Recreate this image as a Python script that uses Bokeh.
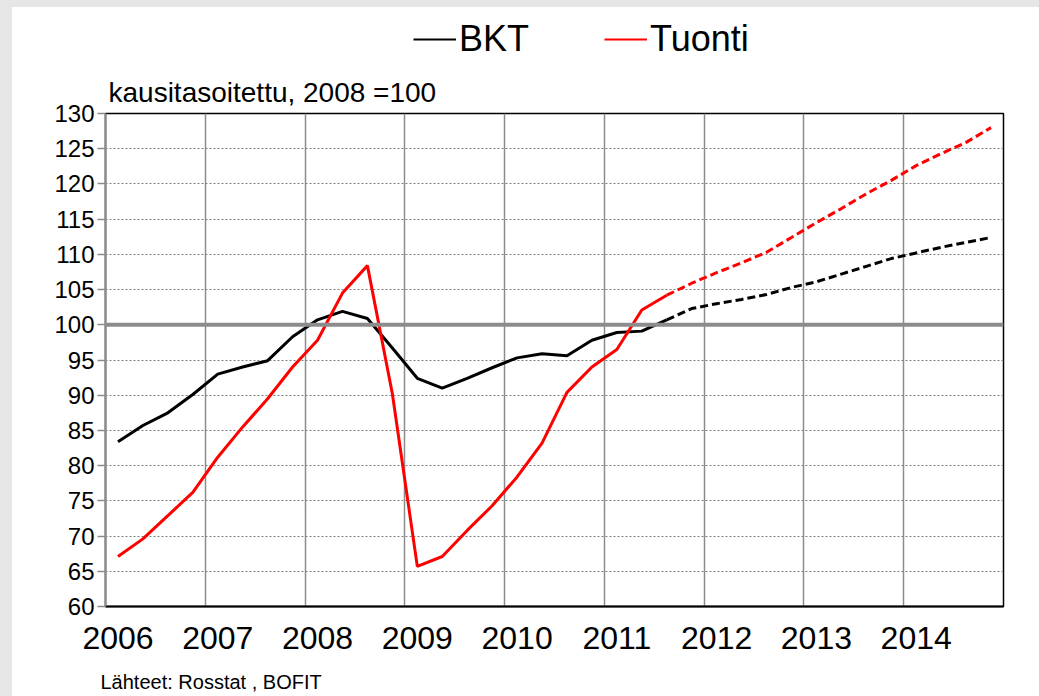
from bokeh.plotting import figure
from bokeh.layouts import column
from bokeh.models import (FixedTicker, Span, Legend, LegendItem, Title,
                          GlobalInlineStyleSheet, CustomJSTickFormatter)
from bokeh.embed import file_html
from bokeh.resources import INLINE

# ---- data (quarterly, 2006Q1 .. 2014Q4) ----
years = [2006, 2007, 2008, 2009, 2010, 2011, 2012, 2013, 2014]
quarters = [1, 2, 3, 4]
bkt = [83.4, 85.7, 87.5, 90.1, 93.0, 94.0, 94.9, 98.3,
       100.7, 101.9, 100.9, 96.7, 92.4, 91.0, 92.4, 93.9,
       95.3, 95.9, 95.6, 97.8, 98.9, 99.1, 100.7, 102.3,
       103.0, 103.6, 104.3, 105.3, 106.1, 107.2, 108.3, 109.4,
       110.2, 111.0, 111.7, 112.4]
tuonti = [67.1, 69.6, 72.9, 76.2, 81.2, 85.5, 89.5, 94.0,
          97.8, 104.5, 108.4, 90.2, 65.7, 67.1, 70.8, 74.3,
          78.4, 83.2, 90.4, 94.0, 96.5, 102.1, 104.2, 105.9,
          107.4, 108.8, 110.3, 112.4, 114.5, 116.5, 118.6, 120.5,
          122.6, 124.3, 125.9, 128.0]
forecast_start = 22  # index of 2011Q3, forecast (dashed) from here on
y_ticks = list(range(60, 131, 5))
series_names = ["BKT", "Tuonti"]
series_colors = ["black", "#ff0000"]
subtitle = "kausitasoitettu, 2008 =100"
source = "Lähteet: Rosstat , BOFIT"

t = [y + (q - 0.5) / 4 for y in years for q in quarters]
FONT = "Liberation Sans"
NAN = float("nan")

# ---------------- header figure (legend) ----------------
top = figure(width=1027, height=60, output_backend="svg", toolbar_location=None,
             x_range=(0, 1), y_range=(0, 1), x_axis_location=None,
             y_axis_location=None, min_border_left=93, min_border_right=36,
             min_border_top=0, min_border_bottom=0, outline_line_color=None,
             border_fill_color=None, background_fill_color=None)
top.grid.visible = False
dummies = [top.line(x=[NAN, NAN], y=[NAN, NAN], line_color=c, line_width=2)
           for c in series_colors]
legend = Legend(items=[LegendItem(label=n, renderers=[r])
                       for n, r in zip(series_names, dummies)],
                orientation="horizontal", location=(308, 7),
                label_text_font=FONT, label_text_font_size="36px",
                label_text_color="black",
                glyph_width=43, label_standoff=3, spacing=75, padding=0,
                margin=0, border_line_alpha=0, background_fill_alpha=0)
top.add_layout(legend, "center")

# ---------------- main figure ----------------
p = figure(width=1027, height=664, output_backend="svg", toolbar_location=None,
           x_range=(2006, 2015), y_range=(60, 130),
           min_border_left=93, min_border_right=36, min_border_top=46,
           min_border_bottom=125, background_fill_color="white",
           border_fill_color=None)

p.xgrid.ticker = FixedTicker(ticks=years + [2015])
p.xgrid.grid_line_color = "#8c8c8c"
p.xgrid.grid_line_width = 1.5
p.ygrid.ticker = FixedTicker(ticks=y_ticks)
p.ygrid.grid_line_color = "#808080"
p.ygrid.grid_line_width = 1
p.ygrid.grid_line_dash = "2 2"

p.add_layout(Span(location=100, dimension="width", line_color="#8c8c8c",
                  line_width=4))

si = forecast_start + 1
for vals, c in zip([bkt, tuonti], series_colors):
    p.line(t[:si], vals[:si], line_color=c, line_width=3)
    p.line(t[forecast_start:], vals[forecast_start:], line_color=c,
           line_width=3, line_dash="8 4")

p.xaxis.ticker = FixedTicker(ticks=[y + 0.125 for y in years])
p.xaxis.formatter = CustomJSTickFormatter(code="return Math.floor(tick).toString();")
p.xaxis.major_tick_line_color = None
p.xaxis.minor_tick_line_color = None
p.xaxis.axis_line_color = "black"
p.xaxis.axis_line_width = 2
p.xaxis.major_label_text_font = FONT
p.xaxis.major_label_text_font_size = "32px"
p.xaxis.major_label_text_color = "black"
p.xaxis.major_label_standoff = 14

p.yaxis.ticker = FixedTicker(ticks=y_ticks)
p.yaxis.axis_line_color = "#8c8c8c"
p.yaxis.axis_line_width = 2
p.yaxis.major_tick_line_color = "#8c8c8c"
p.yaxis.major_tick_line_width = 1.5
p.yaxis.major_tick_out = 8
p.yaxis.major_tick_in = 0
p.yaxis.minor_tick_line_color = None
p.yaxis.major_label_text_font = FONT
p.yaxis.major_label_text_font_size = "24px"
p.yaxis.major_label_text_color = "black"
p.yaxis.major_label_standoff = 3

p.outline_line_color = "black"
p.outline_line_width = 1.5

p.add_layout(Title(text=subtitle, align="left", offset=3,
                   text_font=FONT, text_font_size="28px",
                   text_font_style="normal", text_color="black",
                   standoff=12), "above")
p.add_layout(Title(text=source, align="left", offset=-5,
                   text_font=FONT, text_font_size="20px",
                   text_font_style="normal", text_color="black",
                   standoff=34), "below")

layout = column(top, p, spacing=0, margin=(7, 0, 0, 12),
                styles={"background-color": "white"})
layout.stylesheets = [GlobalInlineStyleSheet(
    css="body{background:#e6e6e6;margin:0;overflow:hidden;}")]

open("out.html", "w").write(file_html(layout, INLINE))
